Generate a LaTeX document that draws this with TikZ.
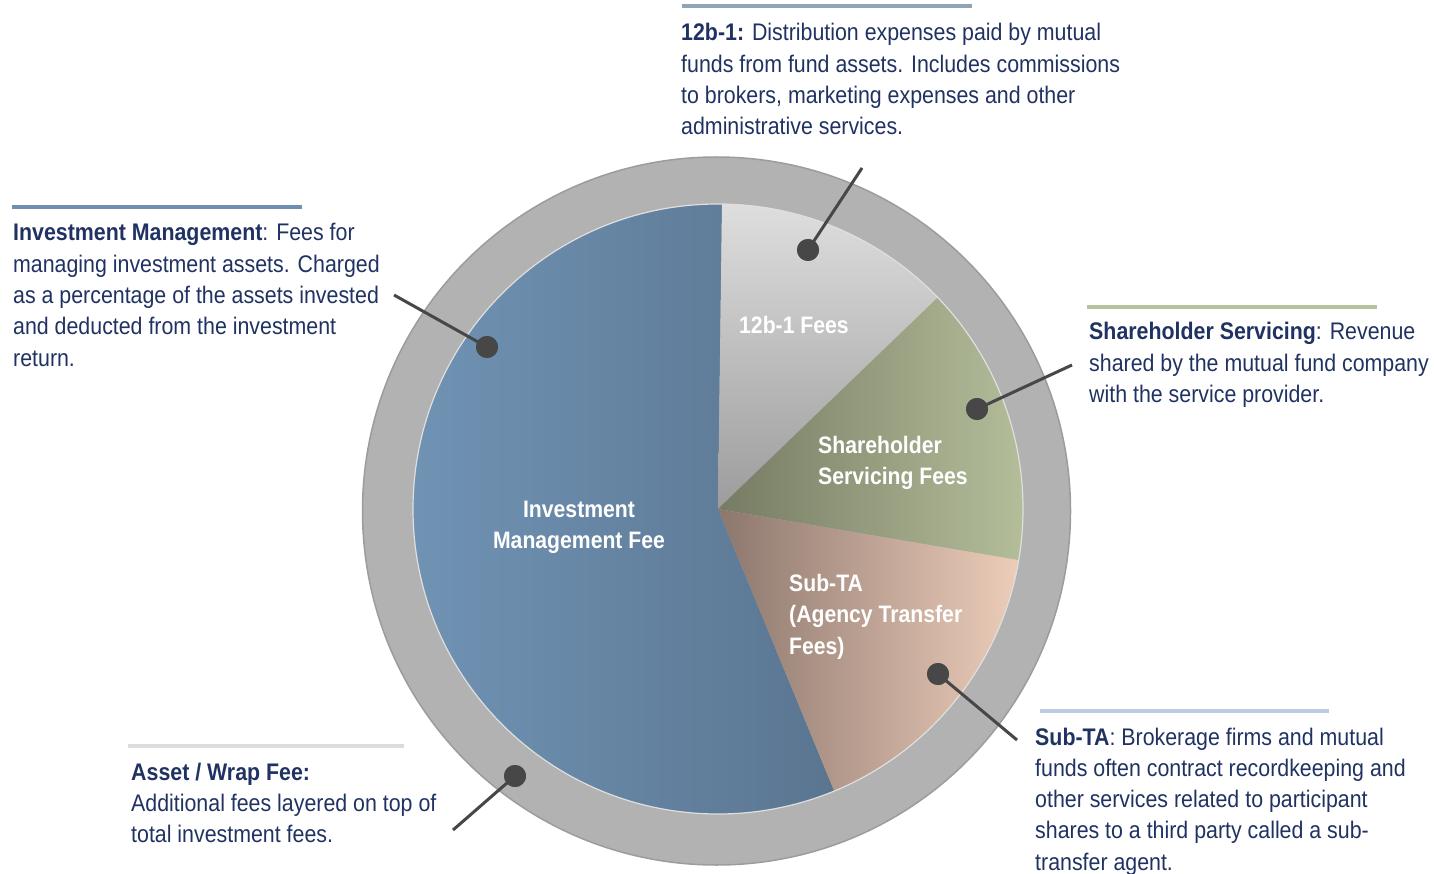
\documentclass[tikz,border=0pt]{standalone}
\usepackage{fontspec}
\setmainfont{Liberation Sans}[FakeStretch=0.89]
\usetikzlibrary{calc}
\definecolor{navy}{HTML}{203262}
\definecolor{ringgray}{HTML}{B2B2B2}
\definecolor{ringedge}{HTML}{9C9C9C}
\definecolor{conncol}{HTML}{474747}
\definecolor{imL}{HTML}{7093B4}
\definecolor{imR}{HTML}{5A7590}
\definecolor{tbT}{HTML}{DEDEDE}
\definecolor{tbB}{HTML}{9C9C9C}
\definecolor{shL}{HTML}{767B63}
\definecolor{shR}{HTML}{B6C09C}
\definecolor{stL}{HTML}{8C776D}
\definecolor{stR}{HTML}{EDCDBA}
\definecolor{hl12}{HTML}{8FA5B6}
\definecolor{hlim}{HTML}{6F8FB0}
\definecolor{hlsh}{HTML}{B5C29B}
\definecolor{hlst}{HTML}{BCCBE3}
\definecolor{hlaw}{HTML}{DCDCDC}
\newcommand{\mylines}[1]{\begin{tabular}[t]{@{}l@{}}#1\end{tabular}}
\newcommand{\mylinesc}[1]{\begin{tabular}[t]{@{}c@{}}#1\end{tabular}}
\tikzset{
  desc/.style={anchor=base west, inner sep=0pt, text=navy, font=\fontsize{24}{31.3}\selectfont},
  pielabel/.style={inner sep=0pt, text=white, font=\bfseries\fontsize{23.8}{31.5}\selectfont},
  topline/.style={line width=4pt},
  dot/.style={circle, fill=conncol, minimum size=22pt, inner sep=0pt},
  conn/.style={draw=conncol, line width=3pt},
}
\begin{document}
\begin{tikzpicture}[x=1pt,y=1pt]
\useasboundingbox (0,0) rectangle (1434,-874);
% ring
\fill[ringgray, draw=ringedge, line width=1.5pt] (716.5,-511) circle[radius=354];
% pie slices
\coordinate (C) at (718,-509);
\shade[left color=imL, right color=imR]
  (C) -- ($(C)+(89.25:305)$) arc[start angle=89.25, end angle=292.4, radius=305] -- cycle;
\shade[top color=tbT, bottom color=tbB]
  (C) -- ($(C)+(43.9:305)$) arc[start angle=43.9, end angle=89.25, radius=305] -- cycle;
\shade[left color=shL, right color=shR]
  (C) -- ($(C)+(-9.65:305)$) arc[start angle=-9.65, end angle=43.9, radius=305] -- cycle;
\shade[left color=stL, right color=stR]
  (C) -- ($(C)+(-67.6:305)$) arc[start angle=-67.6, end angle=-9.65, radius=305] -- cycle;
\draw[white!75!gray, line width=1.2pt] (C) circle[radius=305];
% pie labels
\node[pielabel, anchor=base] (lim) at (579,-517) {\mylinesc{Investment\\Management Fee}};
\node[pielabel, anchor=base west] (l12) at (739,-334) {\mylines{12b-1 Fees}};
\node[pielabel, anchor=base west] (lsh) at (818,-453) {\mylines{Shareholder\\Servicing Fees}};
\node[pielabel, anchor=base west] (lsub) at (789,-591) {\mylines{Sub-TA\\(Agency Transfer\\Fees)}};
% header lines
\draw[topline, draw=hl12] (682,-6) -- (972,-6);
\draw[topline, draw=hlim] (12,-207) -- (302,-207);
\draw[topline, draw=hlsh] (1087,-307) -- (1377,-307);
\draw[topline, draw=hlst] (1040,-711) -- (1329,-711);
\draw[topline, draw=hlaw] (128,-746) -- (404,-746);
% descriptions
\node[desc] (t12) at (681,-41) {\mylines{\textbf{12b-1:} Distribution expenses paid by mutual\\funds from fund assets. Includes commissions\\to brokers, marketing expenses and other\\administrative services.}};
\node[desc] (tim) at (13,-241) {\mylines{\textbf{Investment Management}: Fees for\\managing investment assets. Charged\\as a percentage of the assets invested\\and deducted from the investment\\return.}};
\node[desc] (tsh) at (1089,-340) {\mylines{\textbf{Shareholder Servicing}: Revenue\\shared by the mutual fund company\\with the service provider.}};
\node[desc] (tsub) at (1035,-745) {\mylines{\textbf{Sub-TA}: Brokerage firms and mutual\\funds often contract recordkeeping and\\other services related to participant\\shares to a third party called a sub-\\transfer agent.}};
\node[desc] (taw) at (131,-780) {\mylines{\textbf{Asset / Wrap Fee:}\\Additional fees layered on top of\\total investment fees.}};
% connectors
\node[dot] (d12) at (808,-250) {};
\node[dot] (dim) at (487,-347) {};
\node[dot] (dsh) at (977,-409) {};
\node[dot] (dsub) at (938,-674) {};
\node[dot] (daw) at (515,-776) {};
\coordinate (e12) at (862,-168);
\coordinate (eim) at (394,-295);
\coordinate (esh) at (1072,-365);
\coordinate (esub) at (1017,-740);
\coordinate (eaw) at (453,-830);
\draw[conn] (d12.center) -- (e12);
\draw[conn] (dim.center) -- (eim);
\draw[conn] (dsh.center) -- (esh);
\draw[conn] (dsub.center) -- (esub);
\draw[conn] (daw.center) -- (eaw);
\foreach \n in {d12,dim,dsh,dsub,daw} \fill[conncol] (\n) circle[radius=11];
\end{tikzpicture}
\end{document}
